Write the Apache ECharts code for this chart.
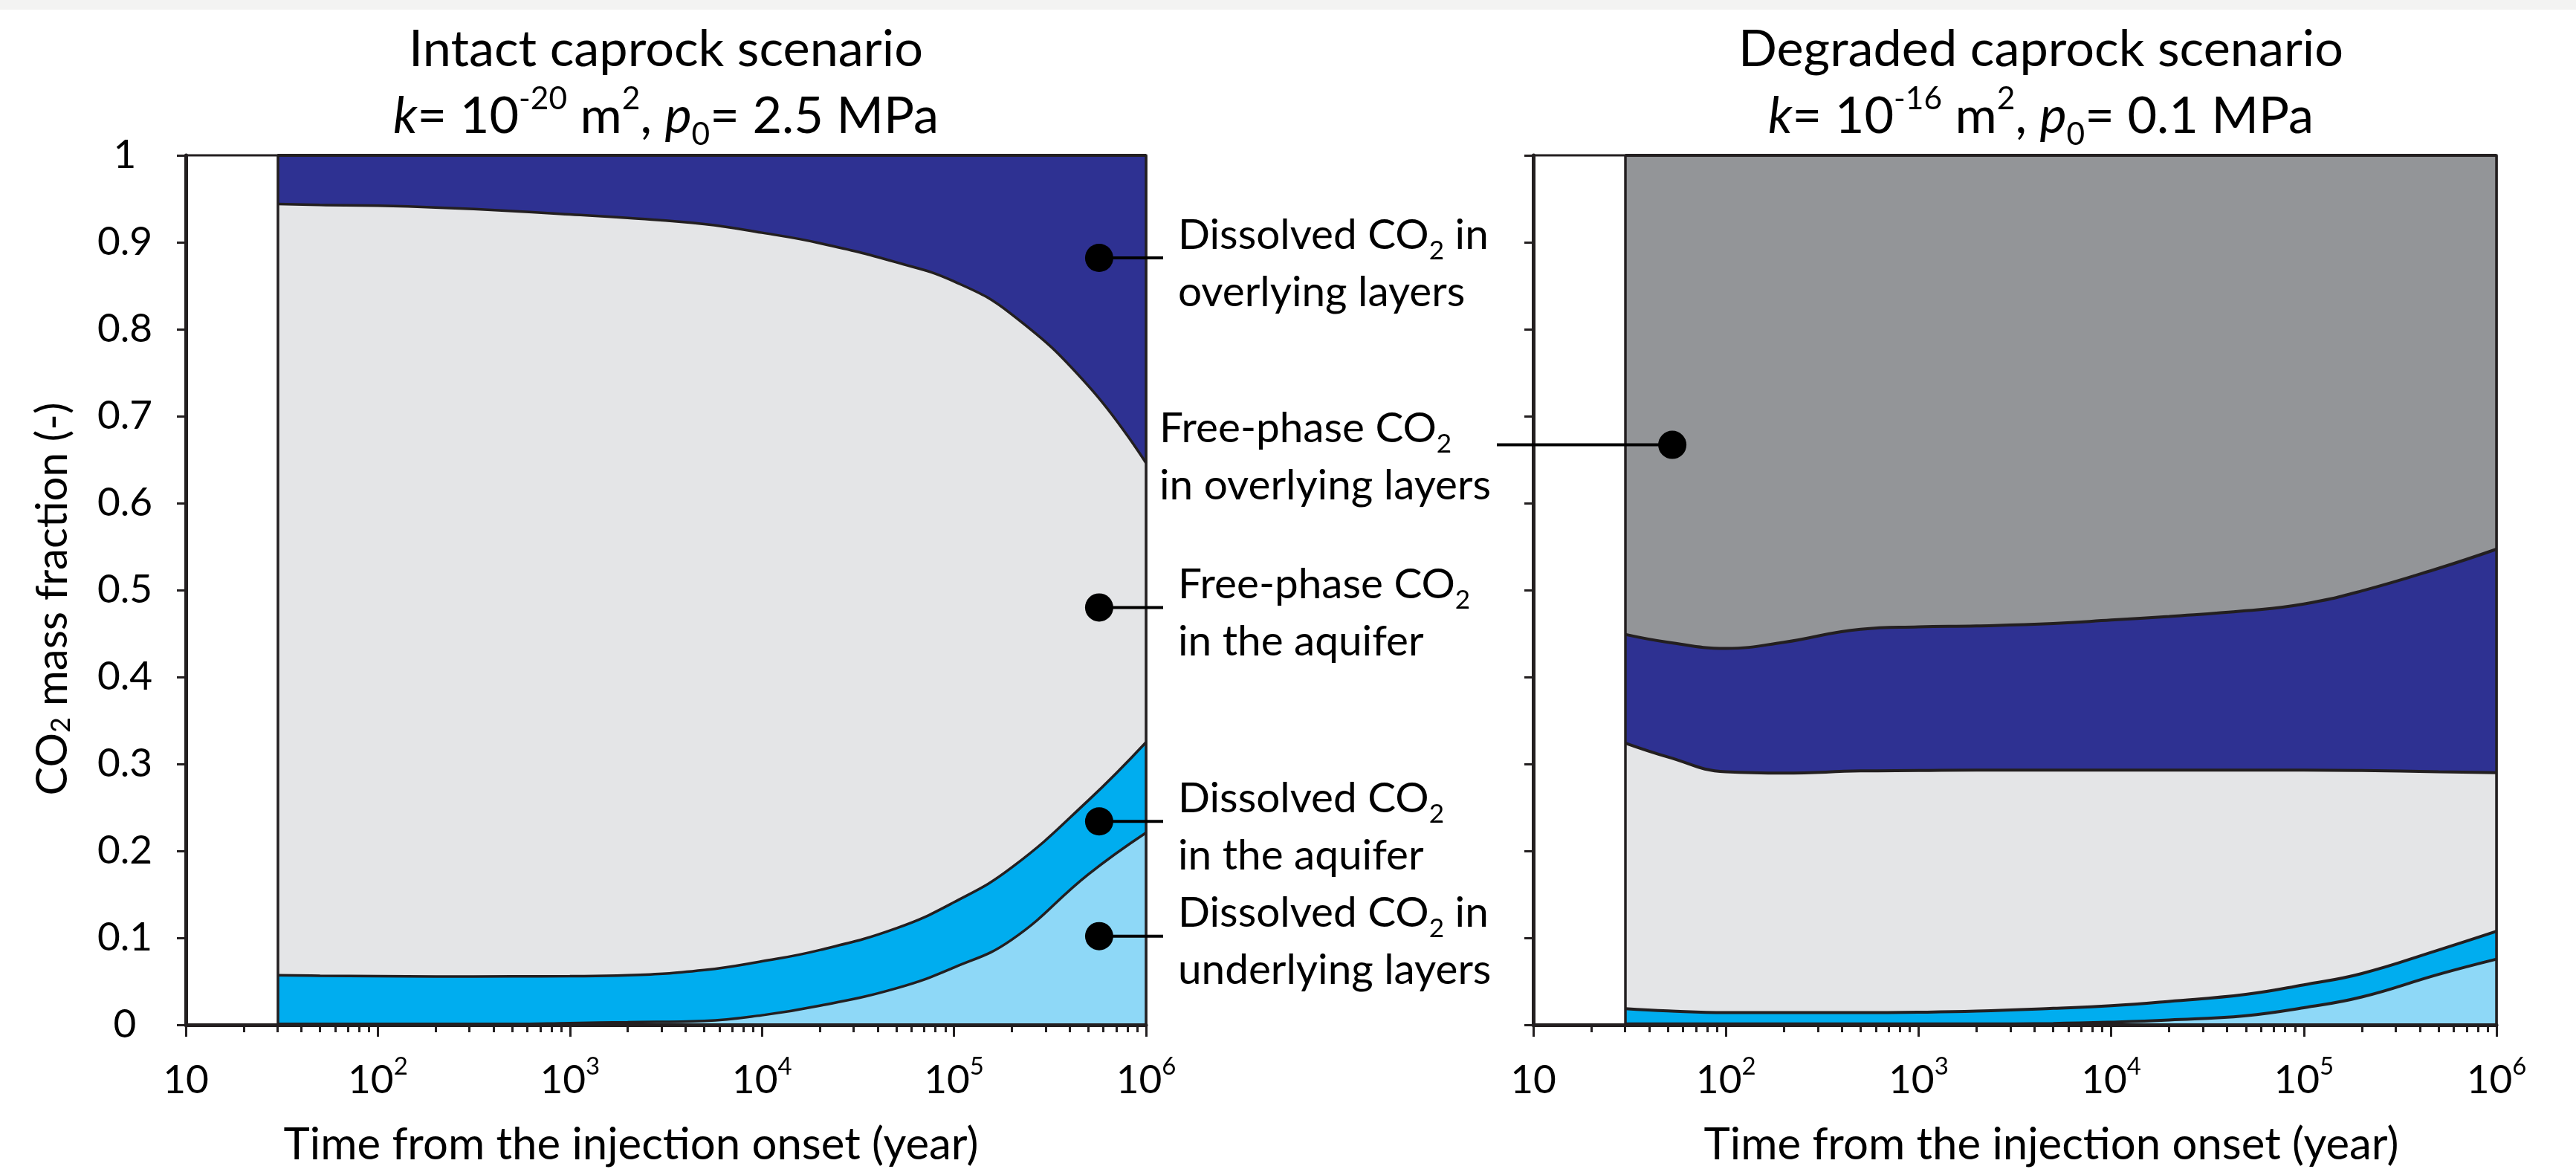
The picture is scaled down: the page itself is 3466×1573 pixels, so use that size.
<!DOCTYPE html>
<html>
<head>
<meta charset="utf-8">
<script src="https://cdn.jsdelivr.net/npm/echarts@6.0.0/dist/echarts.min.js"></script>
<style>
html,body{margin:0;padding:0;background:#ffffff;}
#chart{width:3466px;height:1573px;}
</style>
</head>
<body>
<div id="chart"></div>
<script>
// ---------------- data ----------------
const times = [30, 50, 100, 200, 500, 1000, 2000, 5000, 10000, 20000, 50000, 100000, 200000, 500000, 1000000];

// Intact caprock scenario: upper (cumulative) boundary of each stacked band
const intactOverlyingDissolvedTop  = [1, 1, 1, 1, 1, 1, 1, 1, 1, 1, 1, 1, 1, 1, 1];
const intactAquiferFreeTop         = [0.944, 0.943, 0.942, 0.940, 0.936, 0.932, 0.928, 0.921, 0.911, 0.899, 0.877, 0.855, 0.817, 0.735, 0.646];
const intactAquiferDissolvedTop    = [0.057, 0.0565, 0.056, 0.0556, 0.0558, 0.056, 0.057, 0.063, 0.073, 0.086, 0.111, 0.141, 0.181, 0.258, 0.325];
const intactUnderlyingDissolvedTop = [0.001, 0.001, 0.001, 0.001, 0.001, 0.002, 0.003, 0.0045, 0.011, 0.022, 0.042, 0.066, 0.098, 0.173, 0.221];

// Degraded caprock scenario: upper (cumulative) boundary of each stacked band
const degradedOverlyingFreeTop       = [1, 1, 1, 1, 1, 1, 1, 1, 1, 1, 1, 1, 1, 1, 1];
const degradedOverlyingDissolvedTop  = [0.449, 0.440, 0.433, 0.440, 0.455, 0.4577, 0.4588, 0.4615, 0.4655, 0.4697, 0.4762, 0.484, 0.499, 0.525, 0.547];
const degradedAquiferFreeTop         = [0.324, 0.308, 0.291, 0.2895, 0.292, 0.2925, 0.293, 0.293, 0.293, 0.293, 0.293, 0.293, 0.2925, 0.291, 0.290];
const degradedAquiferDissolvedTop    = [0.0186, 0.016, 0.014, 0.014, 0.014, 0.0145, 0.0158, 0.019, 0.022, 0.027, 0.035, 0.046, 0.059, 0.086, 0.1075];
const degradedUnderlyingDissolvedTop = [0.001, 0.001, 0.001, 0.001, 0.001, 0.001, 0.001, 0.0015, 0.003, 0.0055, 0.0105, 0.0197, 0.032, 0.058, 0.0755];

// axis ticks / labels
const majorTickValues = [10, 100, 1000, 10000, 100000, 1000000];
const majorTickLabels = ['10', '10{sup|2}', '10{sup|3}', '10{sup|4}', '10{sup|5}', '10{sup|6}'];
const minorTickValues = [];
for (let k = 1; k <= 5; k++) for (let m = 2; m <= 9; m++) minorTickValues.push(m * Math.pow(10, k));

// texts
const titleIntact   = 'Intact caprock scenario\n{i|k}= 10{sup|-20} m{sup|2}, {i|p}{sub|0}= 2.5 MPa';
const titleDegraded = 'Degraded caprock scenario\n{i|k}= 10{sup|-16} m{sup|2}, {i|p}{sub|0}= 0.1 MPa';
const xName = 'Time from the injection onset (year)';
const yName = 'CO{sub|2} mass fraction (-)';

// callouts: anchor (time, fraction) and label
const intactCallouts = [
  {t: 5.7e5, v: 0.882, text: 'Dissolved CO{sub|2} in\noverlying layers'},
  {t: 5.7e5, v: 0.480, text: 'Free-phase CO{sub|2}\nin the aquifer'},
  {t: 5.7e5, v: 0.234, text: 'Dissolved CO{sub|2}\nin the aquifer'},
  {t: 5.7e5, v: 0.102, text: 'Dissolved CO{sub|2} in\nunderlying layers'}
];
const degradedCallouts = [
  {t: 52.7, v: 0.667, text: 'Free-phase CO{sub|2}\nin overlying layers'}
];

// ---------------- style ----------------
const FONT = 'Lato';
const INK = '#231f20';
const COL = {navy: '#2e3192', lightGray: '#e4e5e7', blue: '#00adef', lightBlue: '#8ed8f7', gray: '#939598'};
const SUBK = 0.62;

// font sizes chosen so that text widths match the widths measured on the reference (px)
const mctx = document.createElement('canvas').getContext('2d');
function widthAt(parts, size) {
  return parts.reduce((s, p) => { mctx.font = (size * p[1]) + 'px ' + FONT; return s + mctx.measureText(p[0]).width; }, 0);
}
const fit = (parts, target) => 100 * target / widthAt(parts, 100);
const TITLE = fit([['Intact caprock scenario', 1]], 692);
const XNAME = fit([[xName, 1]], 935);
const YNAME = fit([['CO', 1], ['2', SUBK], [' mass fraction (-)', 1]], 529);
const ANN   = (fit([['Dissolved CO', 1], ['2', SUBK], [' in', 1]], 415) + fit([['Free-phase CO', 1], ['2', SUBK]], 396)) / 2;
const LBL   = (fit([['10', 1]], 61) + fit([['0.9', 1]], 75)) / 2;

function richSet(size) {
  const s = size * SUBK;
  return {
    sup: {fontFamily: FONT, fontSize: s, lineHeight: s, verticalAlign: 'top', color: '#000'},
    sub: {fontFamily: FONT, fontSize: s, lineHeight: s, verticalAlign: 'bottom', color: '#000'},
    i:   {fontFamily: FONT, fontSize: size, fontStyle: 'italic', color: '#000'}
  };
}

const pairs = vals => times.map((t, i) => [t, vals[i]]);

function band(name, vals, color, xi, yi, extra) {
  return Object.assign({
    type: 'line', name: name, xAxisIndex: xi, yAxisIndex: yi,
    data: pairs(vals), smooth: 0.45,
    symbol: 'none', showSymbol: false, silent: true, animation: false,
    lineStyle: {color: INK, width: 3.5},
    areaStyle: {color: color, opacity: 1}
  }, extra || {});
}

const edgeLines = {
  silent: true, animation: false, symbol: ['none', 'none'],
  label: {show: false},
  lineStyle: {color: INK, width: 3.5, type: 'solid'},
  data: [{xAxis: 30}, {xAxis: 1000000}]
};

function xMajor(gridIndex) {
  return {
    type: 'log', logBase: 10, gridIndex: gridIndex, min: 10, max: 1000000, position: 'bottom', z: 5,
    axisLine: {show: true, onZero: false, lineStyle: {color: INK, width: 5}},
    axisTick: {show: true, inside: false, length: 16, customValues: majorTickValues, lineStyle: {color: INK, width: 3}},
    minorTick: {show: false},
    splitLine: {show: false},
    axisLabel: {
      show: true, customValues: majorTickValues, margin: 40, color: '#000',
      fontFamily: FONT, fontSize: LBL, lineHeight: 70,
      formatter: function (v) { const e = Math.round(Math.log10(v)); return majorTickLabels[e - 1]; },
      rich: richSet(LBL)
    }
  };
}
function xMinor(gridIndex) {
  return {
    type: 'log', logBase: 10, gridIndex: gridIndex, min: 10, max: 1000000, position: 'bottom', z: 5,
    axisLine: {show: false, onZero: false},
    axisTick: {show: true, inside: false, length: 10, customValues: minorTickValues, lineStyle: {color: INK, width: 3}},
    axisLabel: {show: false}, splitLine: {show: false}, minorTick: {show: false}
  };
}
function yAxis(gridIndex, showLabels) {
  return {
    type: 'value', gridIndex: gridIndex, min: 0, max: 1, interval: 0.1, z: 5,
    axisLine: {show: true, onZero: false, lineStyle: {color: INK, width: 5}},
    axisTick: {show: true, inside: false, length: 12, lineStyle: {color: INK, width: 3}},
    splitLine: {show: false},
    axisLabel: {show: showLabels, align: 'center', margin: 82, color: '#000', fontFamily: FONT, fontSize: LBL},
    name: showLabels ? yName : '', nameLocation: 'middle', nameGap: 150, nameMoveOverlap: false,
    nameTextStyle: {fontFamily: FONT, fontSize: YNAME, color: '#000', padding: [0, 24, 0, 0], rich: richSet(YNAME)}
  };
}

const option = {
  backgroundColor: '#ffffff',
  animation: false,
  grid: [
    {left: 250, top: 209, width: 1292, height: 1170, show: true, borderColor: INK, borderWidth: 3, backgroundColor: 'transparent', containLabel: false, outerBoundsMode: 'none'},
    {left: 2063, top: 209, width: 1296, height: 1170, show: true, borderColor: INK, borderWidth: 3, backgroundColor: 'transparent', containLabel: false, outerBoundsMode: 'none'}
  ],
  xAxis: [xMajor(0), xMinor(0), xMajor(1), xMinor(1)],
  yAxis: [yAxis(0, true), yAxis(1, false)],
  series: [
    band('Dissolved CO2 in overlying layers', intactOverlyingDissolvedTop, COL.navy, 0, 0, {lineStyle: {color: INK, width: 4}}),
    band('Free-phase CO2 in the aquifer', intactAquiferFreeTop, COL.lightGray, 0, 0),
    band('Dissolved CO2 in the aquifer', intactAquiferDissolvedTop, COL.blue, 0, 0),
    band('Dissolved CO2 in underlying layers', intactUnderlyingDissolvedTop, COL.lightBlue, 0, 0, {markLine: edgeLines}),
    band('Free-phase CO2 in overlying layers', degradedOverlyingFreeTop, COL.gray, 2, 1, {lineStyle: {color: INK, width: 4}}),
    band('Dissolved CO2 in overlying layers', degradedOverlyingDissolvedTop, COL.navy, 2, 1, {lineStyle: {color: INK, width: 4}}),
    band('Free-phase CO2 in the aquifer', degradedAquiferFreeTop, COL.lightGray, 2, 1, {lineStyle: {color: INK, width: 4}}),
    band('Dissolved CO2 in the aquifer', degradedAquiferDissolvedTop, COL.blue, 2, 1, {lineStyle: {color: INK, width: 4}}),
    band('Dissolved CO2 in underlying layers', degradedUnderlyingDissolvedTop, COL.lightBlue, 2, 1, {markLine: edgeLines, lineStyle: {color: INK, width: 4}})
  ]
};

const chart = echarts.init(document.getElementById('chart'), null, {renderer: 'canvas', width: 3466, height: 1573});
chart.setOption(option);

// ---------------- texts and callouts positioned through the chart's own scales ----------------
const toPx = (si, t, v) => chart.convertToPixel({seriesIndex: si}, [t, v]);
const g = [];
g.push({type: 'rect', silent: true, z: 0, shape: {x: 0, y: 0, width: 3466, height: 13}, style: {fill: '#f3f3f2'}});

function textEl(x, y, text, size, align, vAlign, lineHeight) {
  return {
    type: 'text', x: x, y: y, silent: true, z: 20,
    style: {
      text: text, fontFamily: FONT, fontSize: size, fill: '#000',
      align: align, textAlign: align, verticalAlign: vAlign, textVerticalAlign: vAlign,
      lineHeight: lineHeight, rich: richSet(size)
    }
  };
}

const L0 = toPx(3, 10, 1), L1 = toPx(3, 1000000, 1), LB = toPx(3, 10, 0);
const R0 = toPx(8, 10, 1), R1 = toPx(8, 1000000, 1);
const leftMid = (L0[0] + L1[0]) / 2, rightMid = (R0[0] + R1[0]) / 2;

// titles
g.push(textEl(leftMid, 22, titleIntact, TITLE, 'center', 'top', 90));
g.push(textEl(rightMid + 35, 22, titleDegraded, TITLE, 'center', 'top', 90));

// x-axis names
g.push(textEl(leftMid - 47, LB[1] + 162, xName, XNAME, 'center', 'middle', XNAME * 1.2));
g.push(textEl(rightMid + 49, LB[1] + 162, xName, XNAME, 'center', 'middle', XNAME * 1.2));

// callouts of the intact chart (labels to the right of the plot)
intactCallouts.forEach(c => {
  const p = toPx(3, c.t, c.v);
  g.push({type: 'line', silent: true, z: 20, shape: {x1: p[0], y1: p[1], x2: L1[0] + 23, y2: p[1]}, style: {stroke: '#000', lineWidth: 4}});
  g.push({type: 'circle', silent: true, z: 21, shape: {cx: p[0], cy: p[1], r: 19}, style: {fill: '#000'}});
  g.push(textEl(L1[0] + 43, p[1] + 8, c.text, ANN, 'left', 'middle', 77));
});
// callout of the degraded chart (label to the left of the plot)
degradedCallouts.forEach(c => {
  const p = toPx(8, c.t, c.v);
  g.push({type: 'line', silent: true, z: 20, shape: {x1: R0[0] - 49, y1: p[1], x2: p[0], y2: p[1]}, style: {stroke: '#000', lineWidth: 4}});
  g.push({type: 'circle', silent: true, z: 21, shape: {cx: p[0], cy: p[1], r: 19}, style: {fill: '#000'}});
  g.push(textEl(R0[0] - 503, p[1] + 17, c.text, ANN, 'left', 'middle', 77));
});

chart.setOption({graphic: {elements: g}});
</script>
</body>
</html>
